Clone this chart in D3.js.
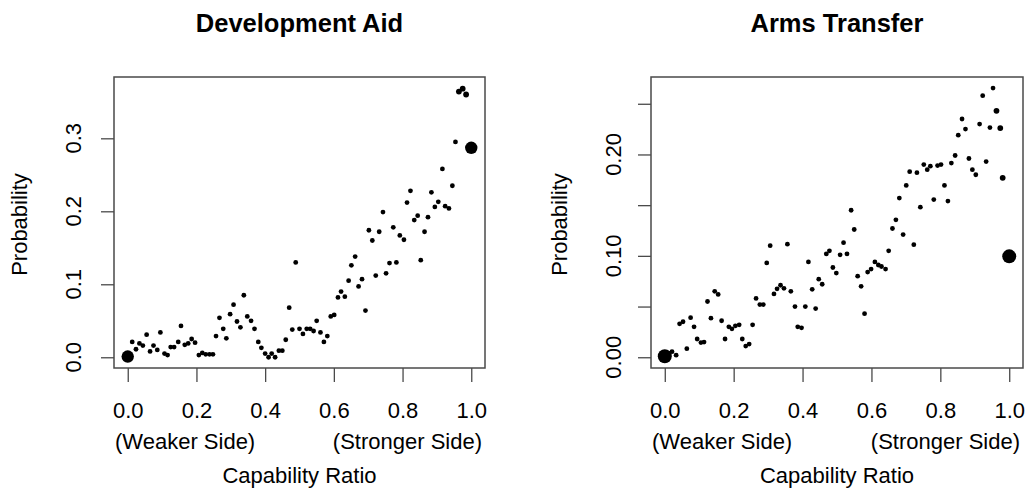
<!DOCTYPE html>
<html>
<head>
<meta charset="utf-8">
<script src="https://cdn.jsdelivr.net/npm/d3@7"></script>
<style>
  body { margin: 0; background: #fff; }
  svg { display: block; font-family: "Liberation Sans", Arial, Helvetica, sans-serif; }
</style>
</head>
<body>
<svg id="chart" width="1027" height="490"></svg>
<script>
// panel titles and axis texts
var titles = ["Development Aid", "Arms Transfer"];
var xTicks = [0, 0.2, 0.4, 0.6, 0.8, 1.0];
var aidYTicks = [0, 0.1, 0.2, 0.3];
var aidYLabels = [0, 0.1, 0.2, 0.3];
var armsYTicks = [0, 0.05, 0.10, 0.15, 0.20, 0.25];
var armsYLabels = [0, 0.10, 0.20];

// development aid: [capability ratio, probability]
var aidPoints = [
  [0.013,0.021],[0.024,0.011],[0.034,0.019],[0.044,0.016],[0.055,0.031],[0.065,0.008],[0.075,0.016],
  [0.086,0.010],[0.095,0.034],[0.107,0.005],[0.116,0.003],[0.125,0.014],[0.135,0.014],[0.147,0.021],
  [0.155,0.043],[0.166,0.017],[0.176,0.019],[0.186,0.025],[0.196,0.020],[0.207,0.003],[0.217,0.006],
  [0.227,0.004],[0.238,0.004],[0.248,0.004],[0.257,0.029],[0.267,0.054],[0.278,0.039],[0.287,0.026],
  [0.298,0.059],[0.308,0.072],[0.318,0.049],[0.328,0.041],[0.338,0.085],[0.348,0.056],[0.359,0.050],
  [0.369,0.039],[0.380,0.021],[0.389,0.013],[0.400,0.005],[0.410,0.000],[0.419,0.005],[0.429,0.000],
  [0.440,0.009],[0.450,0.009],[0.460,0.024],[0.470,0.068],[0.479,0.038],[0.489,0.130],[0.500,0.039],
  [0.510,0.032],[0.521,0.039],[0.531,0.039],[0.541,0.036],[0.550,0.050],[0.561,0.034],[0.571,0.021],
  [0.581,0.029],[0.591,0.056],[0.601,0.058],[0.612,0.082],[0.621,0.090],[0.632,0.083],[0.643,0.105],
  [0.651,0.126],[0.662,0.138],[0.672,0.097],[0.682,0.107],[0.692,0.064],[0.702,0.174],[0.712,0.160],
  [0.722,0.112],[0.732,0.172],[0.743,0.199],[0.752,0.115],[0.762,0.129],[0.773,0.178],[0.782,0.130],
  [0.792,0.167],[0.804,0.161],[0.813,0.212],[0.823,0.228],[0.834,0.188],[0.844,0.194],[0.853,0.133],
  [0.864,0.172],[0.874,0.192],[0.884,0.226],[0.894,0.206],[0.904,0.213],[0.916,0.258],[0.924,0.207],
  [0.935,0.204],[0.945,0.235],[0.954,0.295]
];
var aidMedium = [[0.964,0.364],[0.975,0.368],[0.985,0.360]];
var aidBig = [[0.0,0.001],[1.0,0.287]];

// arms transfer: [capability ratio, probability]
var armsPoints = [
  [0.011,0.004],
  [0.021,0.0055],[0.033,0.002],[0.043,0.033],[0.053,0.035],[0.064,0.0085],[0.075,0.039],[0.085,0.030],
  [0.094,0.018],[0.105,0.0145],[0.114,0.015],[0.124,0.055],[0.134,0.0385],[0.145,0.065],[0.155,0.062],
  [0.165,0.036],[0.175,0.018],[0.186,0.030],[0.195,0.028],[0.205,0.031],[0.216,0.032],[0.225,0.018],
  [0.235,0.011],[0.245,0.013],[0.255,0.032],[0.265,0.058],[0.276,0.052],[0.286,0.052],[0.296,0.093],
  [0.306,0.110],[0.317,0.0625],[0.326,0.0675],[0.336,0.071],[0.346,0.068],[0.356,0.1115],[0.366,0.065],
  [0.378,0.050],[0.386,0.030],[0.397,0.029],[0.408,0.050],[0.417,0.094],[0.428,0.067],[0.438,0.048],
  [0.447,0.077],[0.457,0.072],[0.469,0.102],[0.478,0.105],[0.488,0.0885],[0.498,0.083],[0.509,0.101],
  [0.519,0.113],[0.529,0.102],[0.541,0.145],[0.550,0.126],[0.560,0.080],[0.570,0.070],[0.580,0.043],
  [0.589,0.084],[0.599,0.087],[0.610,0.094],[0.620,0.091],[0.629,0.0895],[0.641,0.087],[0.650,0.105],
  [0.661,0.127],[0.671,0.1355],[0.681,0.157],[0.692,0.121],[0.701,0.1695],[0.711,0.183],[0.723,0.111],
  [0.732,0.182],[0.742,0.148],[0.752,0.190],[0.762,0.185],[0.771,0.1885],[0.781,0.1555],[0.792,0.189],
  [0.802,0.190],[0.812,0.1695],[0.822,0.154],[0.832,0.1915],[0.843,0.199],[0.852,0.219],[0.863,0.235],
  [0.873,0.225],[0.883,0.196],[0.893,0.185],[0.903,0.180],[0.914,0.230],[0.923,0.258],[0.933,0.193],
  [0.944,0.2265],[0.953,0.2655]
];
var armsMedium = [[0.963,0.243],[0.974,0.226],[0.981,0.177]];
var armsBig = [[0.0,0.001],[1.0,0.0995]];

var svg = d3.select("#chart");
var ink = "#000";
var frame = "#4a4a4a";

/**
 * draw one scatter panel in the style of an R base plot
 * @param  {object} p [layout of the panel plus its data]
 */
function drawPanel(p){
    var g = svg.append("g").attr("class", "panel");

    var x = d3.scaleLinear().domain([-0.04, 1.04]).range([p.left, p.right]);
    var y = d3.scaleLinear().domain(p.yDomain).range([p.bottom, p.top]);

    // plot box
    g.append("rect")
        .attr("x", p.left).attr("y", p.top)
        .attr("width", p.right - p.left).attr("height", p.bottom - p.top)
        .style("fill", "none").style("stroke", frame).style("stroke-width", 1.5);

    // x axis, ticks only, labels set below
    var xAxis = g.append("g")
        .attr("transform", "translate(0," + p.bottom + ")")
        .call(d3.axisBottom(x).tickValues(xTicks).tickSize(14).tickPadding(20)
            .tickFormat(d3.format(".1f")));
    xAxis.select(".domain").remove();
    xAxis.selectAll("line").style("stroke", frame).style("stroke-width", 1.3);
    xAxis.selectAll("text")
        .style("font-size", "22px").style("fill", ink)
        .attr("dy", null).attr("y", 50);

    // y axis, the labels are turned like R's default
    var yAxis = g.append("g")
        .attr("transform", "translate(" + p.left + ",0)")
        .call(d3.axisLeft(y).tickValues(p.yTicks).tickSize(13).tickFormat(""));
    yAxis.select(".domain").remove();
    yAxis.selectAll("line").style("stroke", frame).style("stroke-width", 1.3);

    g.selectAll("text.ylab")
        .data(p.yLabels)
        .join("text")
        .attr("class", "ylab")
        .attr("transform", function(d){ return "translate(" + p.yLabelX + "," + y(d) + ") rotate(-90)"; })
        .attr("text-anchor", "middle")
        .style("font-size", "22px").style("fill", ink)
        .text(function(d){ return d3.format(p.yFormat)(d); });

    // titles and axis texts
    var cx = (p.left + p.right) / 2;
    g.append("text")
        .attr("x", cx).attr("y", 32)
        .attr("text-anchor", "middle")
        .style("font-size", "25.5px").style("font-weight", "bold").style("fill", ink)
        .text(p.title);

    g.append("text")
        .attr("transform", "translate(" + p.yTitleX + "," + ((p.top + p.bottom) / 2 + 2) + ") rotate(-90)")
        .attr("text-anchor", "middle")
        .style("font-size", "22px").style("fill", ink)
        .text("Probability");

    g.append("text")
        .attr("x", p.left + 1).attr("y", 449)
        .attr("text-anchor", "start")
        .style("font-size", "22px").style("fill", ink)
        .text("(Weaker Side)");

    g.append("text")
        .attr("x", p.right - 3).attr("y", 449)
        .attr("text-anchor", "end")
        .style("font-size", "22px").style("fill", ink)
        .text("(Stronger Side)");

    g.append("text")
        .attr("x", cx).attr("y", 483)
        .attr("text-anchor", "middle")
        .style("font-size", "22px").style("fill", ink)
        .text("Capability Ratio");

    // points: ordinary, slightly larger, and the two big end points
    var sets = [[p.points, 2.4], [p.medium, 2.9], [p.big, p.bigR]];
    sets.forEach(function(s){
        g.append("g").selectAll("circle")
            .data(s[0])
            .join("circle")
            .attr("cx", function(d){ return x(d[0]); })
            .attr("cy", function(d){ return y(d[1]); })
            .attr("r", s[1])
            .style("fill", "#000");
    });
}

drawPanel({
    title: titles[0],
    left: 114, right: 485, top: 77, bottom: 368,
    yDomain: [-0.0147, 0.384],
    yTicks: aidYTicks, yLabels: aidYLabels, yFormat: ".1f",
    yLabelX: 80.7, yTitleX: 27,
    points: aidPoints, medium: aidMedium, big: aidBig, bigR: 6.2
});

drawPanel({
    title: titles[1],
    left: 651, right: 1023, top: 77, bottom: 368,
    yDomain: [-0.0106, 0.2764],
    yTicks: armsYTicks, yLabels: armsYLabels, yFormat: ".2f",
    yLabelX: 620.7, yTitleX: 567,
    points: armsPoints, medium: armsMedium, big: armsBig, bigR: 7
});
</script>
</body>
</html>
